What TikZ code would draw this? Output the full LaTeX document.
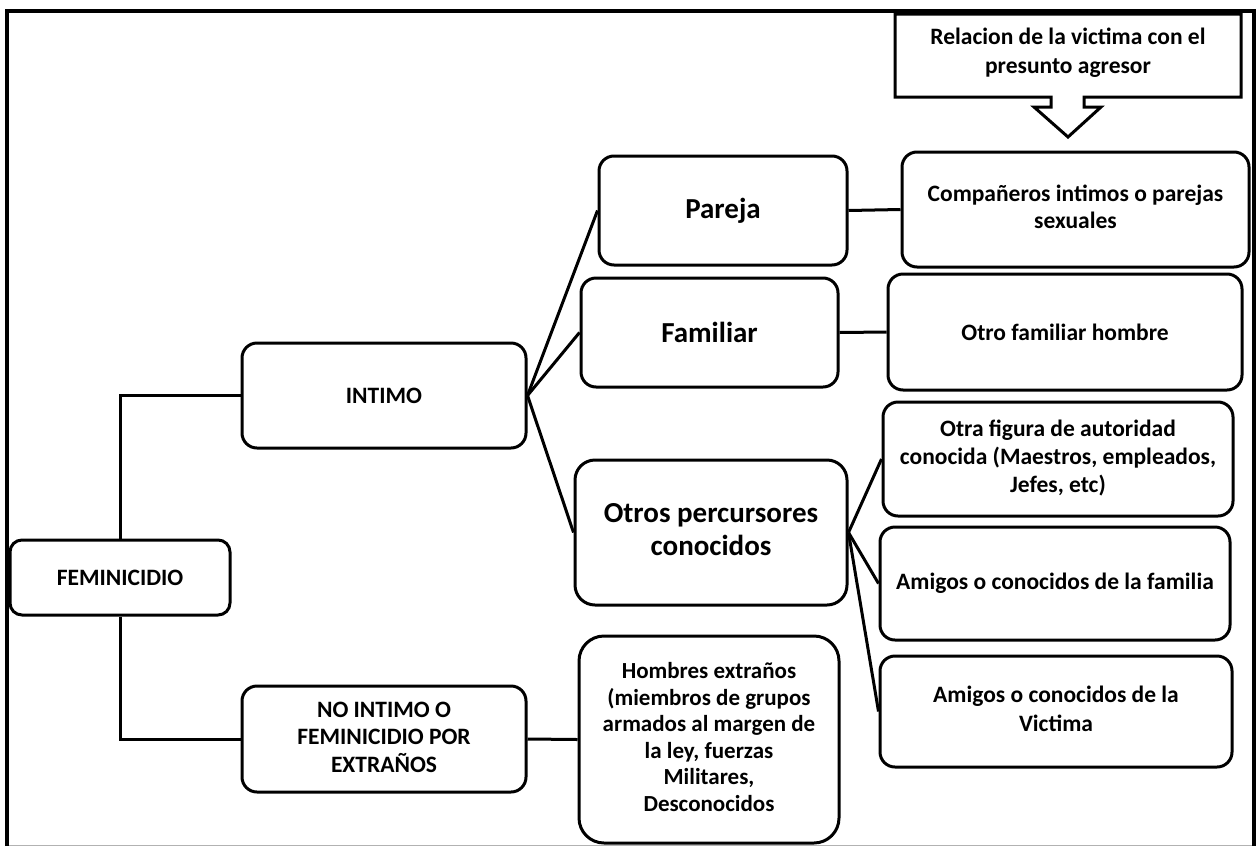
\documentclass[tikz,border=0pt]{standalone}
\usepackage{fontspec}
\setmainfont{Carlito}
\newcommand\mlines[1]{\begin{tabular}{@{}c@{}}#1\end{tabular}}
\begin{document}
\begin{tikzpicture}[x=1pt,y=-1pt,
  box/.style={draw, line width=3pt, rounded corners=15pt, inner sep=0pt,
    font=\fontsize{23.5}{28}\selectfont\bfseries},
  bigbox/.style={box, font=\fontsize{29}{33}\selectfont\bfseries},
  conn/.style={line width=3pt},
]
\useasboundingbox (0,0) rectangle (1257,846);
% frame
\draw[gray!60, line width=1pt] (7,845) -- (1254,845);
\draw[line width=4pt] (7,846) -- (7,11) -- (1254,11) -- (1254,846);

% callout
\draw[line width=3pt, line join=miter] (895,14) -- (1241,14) -- (1241,97) -- (1084,97) -- (1084,107) -- (1101,107)
  -- (1068,137) -- (1034,107) -- (1051,107) -- (1051,97) -- (895,97) -- cycle;
\node[inner sep=0pt, font=\fontsize{23.5}{29}\selectfont\bfseries] (rel) at (1068,53)
  {\mlines{Relacion de la victima con el\\presunto agresor}};

% nodes
\node[box, rounded corners=12pt, minimum width=220pt, minimum height=75pt] (fem) at (120,577.5) {FEMINICIDIO};
\node[box, minimum width=284pt, minimum height=105pt] (intimo) at (384,395.5) {INTIMO};
\node[box, minimum width=284pt, minimum height=106pt, font=\fontsize{23.5}{27.5}\selectfont\bfseries] (noint) at (384,739)
  {\mlines{NO INTIMO O\\FEMINICIDIO POR\\EXTRAÑOS}};
\node[bigbox, minimum width=248pt, minimum height=109pt] (pareja) at (723,210.5) {Pareja};
\node[bigbox, minimum width=257pt, minimum height=109pt] (familiar) at (709.5,332.5) {Familiar};
\node[bigbox, rounded corners=20pt, minimum width=272pt, minimum height=145pt] (otros) at (711,532.5)
  {\mlines{Otros percursores\\conocidos}};
\node[box, rounded corners=25pt, minimum width=260pt, minimum height=207pt, font=\fontsize{23}{26.5}\selectfont\bfseries] (homb) at (709,739.5)
  {\mlines{Hombres extraños\\(miembros de grupos\\armados al margen de\\la ley, fuerzas\\Militares,\\Desconocidos}};
\node[box, minimum width=347pt, minimum height=115pt, font=\fontsize{23.5}{27}\selectfont\bfseries] (comp) at (1075.5,209.5)
  {\mlines{Compañeros intimos o parejas\\sexuales}};
\node[box, minimum width=354pt, minimum height=116pt] (ofam) at (1065,332) {Otro familiar hombre};
\node[box, minimum width=350pt, minimum height=114pt] (ofig) at (1058,459)
  {\mlines{Otra figura de autoridad\\conocida (Maestros, empleados,\\Jefes, etc)}};
\node[box, minimum width=350pt, minimum height=113pt] (amfam) at (1055,583.5) {Amigos o conocidos de la familia};
\node[box, minimum width=352pt, minimum height=111pt, font=\fontsize{23.5}{29}\selectfont\bfseries] (amvic) at (1056,711.5)
  {\mlines{Amigos o conocidos de la\\Victima}};

% connectors
\draw[conn] (fem.north) |- (intimo.west);
\draw[conn] (fem.south) |- (noint.west);
\draw[conn] (intimo.east) -- (pareja.west);
\draw[conn] (intimo.east) -- (familiar.west);
\draw[conn] (intimo.east) -- (otros.west);
\draw[conn] (pareja.east) -- (comp.west);
\draw[conn] (familiar.east) -- (ofam.west);
\draw[conn] (noint.east) -- (homb.west);
\draw[conn] (otros.east) -- (ofig.west);
\draw[conn] (otros.east) -- (amfam.west);
\draw[conn] (otros.east) -- (amvic.west);
\end{tikzpicture}
\end{document}
